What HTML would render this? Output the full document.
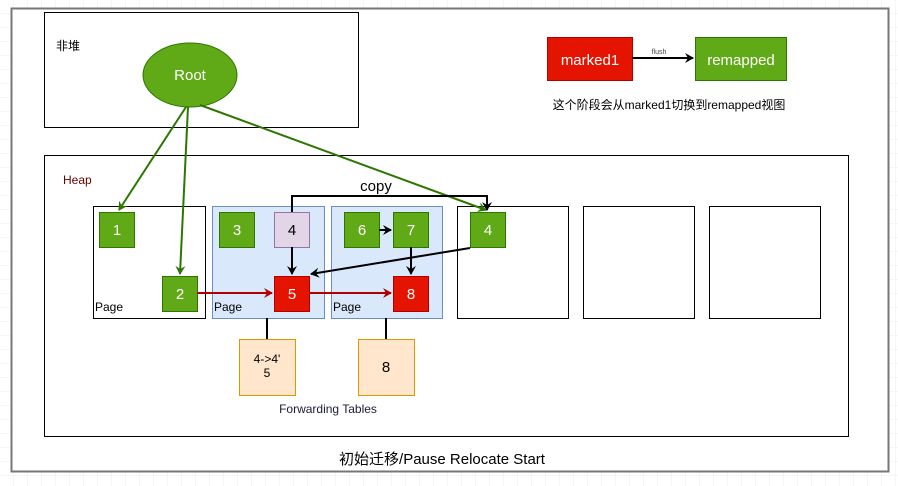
<!DOCTYPE html>
<html><head><meta charset="utf-8"><style>
html,body{margin:0;padding:0;background:#fff}
svg{display:block}
text{font-family:"Liberation Sans","Noto Sans CJK SC",sans-serif}
</style></head><body>
<svg width="898" height="486" viewBox="0 0 898 486" xmlns="http://www.w3.org/2000/svg">
<defs>
<pattern id="g" width="14" height="14" patternUnits="userSpaceOnUse"><path d="M14 0V14H0" fill="none" stroke="#eee" stroke-width="1"/></pattern>
<marker id="ag" markerWidth="10" markerHeight="10" refX="8" refY="5" orient="auto" markerUnits="userSpaceOnUse"><path d="M0,0 L9,5 L0,10 L3,5z" fill="#2d7600"/></marker>
<marker id="ab" markerWidth="10" markerHeight="10" refX="8" refY="5" orient="auto" markerUnits="userSpaceOnUse"><path d="M0,0 L9,5 L0,10 L3,5z" fill="#000"/></marker>
<marker id="ar" markerWidth="10" markerHeight="10" refX="8" refY="5" orient="auto" markerUnits="userSpaceOnUse"><path d="M0,0 L9,5 L0,10 L3,5z" fill="#b20000"/></marker>
</defs>
<rect width="898" height="486" fill="url(#g)"/>
<rect x="11.5" y="8.5" width="877" height="463" fill="#fff" stroke="#777" stroke-width="2"/>
<rect x="44.5" y="12.5" width="314" height="115" fill="#fff" stroke="#000"/>
<text x="56" y="50" font-size="12">非堆</text>
<rect x="44.5" y="155.5" width="804" height="281" fill="#fff" stroke="#000"/>
<text x="63" y="184" font-size="12" fill="#660000">Heap</text>
<rect x="93.5" y="206.5" width="112" height="112" fill="#fff" stroke="#000"/>
<rect x="212.5" y="206.5" width="112" height="112" fill="#dae8fc" stroke="#6c8ebf"/>
<rect x="331.5" y="206.5" width="111" height="112" fill="#dae8fc" stroke="#6c8ebf"/>
<rect x="457.5" y="206.5" width="111" height="112" fill="#fff" stroke="#000"/>
<rect x="583.5" y="206.5" width="111" height="112" fill="#fff" stroke="#000"/>
<rect x="709.5" y="206.5" width="111" height="112" fill="#fff" stroke="#000"/>
<g font-size="12"><text x="95" y="311">Page</text><text x="214" y="311">Page</text><text x="333" y="311">Page</text></g>
<line x1="267" y1="318" x2="267" y2="339" stroke="#000" stroke-width="2"/>
<line x1="386" y1="318" x2="386" y2="339" stroke="#000" stroke-width="2"/>
<rect x="239.5" y="339.5" width="56" height="56" fill="#ffe6cc" stroke="#d79b00"/>
<rect x="358.5" y="339.5" width="56" height="56" fill="#ffe6cc" stroke="#d79b00"/>
<text x="267" y="363" font-size="12" text-anchor="middle">4-&gt;4'</text>
<text x="267" y="377" font-size="12" text-anchor="middle">5</text>
<text x="386" y="372" font-size="15" text-anchor="middle">8</text>
<text x="328" y="413" font-size="12" text-anchor="middle" fill="#1a1a3a">Forwarding Tables</text>
<g stroke="#2d7600" stroke-width="1" font-size="15" text-anchor="middle">
<rect x="99.5" y="212.5" width="35" height="35" fill="#60a917"/>
<rect x="162.5" y="276.5" width="35" height="35" fill="#60a917"/>
<rect x="219.5" y="212.5" width="35" height="35" fill="#60a917"/>
<rect x="344.5" y="212.5" width="35" height="35" fill="#60a917"/>
<rect x="393.5" y="212.5" width="35" height="35" fill="#60a917"/>
<rect x="470.5" y="212.5" width="35" height="35" fill="#60a917"/>
</g>
<rect x="274.5" y="212.5" width="35" height="35" fill="#e1d5e7" stroke="#9673a6"/>
<rect x="274.5" y="276.5" width="35" height="35" fill="#e51400" stroke="#b20000"/>
<rect x="393.5" y="276.5" width="35" height="35" fill="#e51400" stroke="#b20000"/>
<g font-size="15" text-anchor="middle" fill="#fff">
<text x="117" y="235">1</text><text x="180" y="299">2</text><text x="237" y="235">3</text>
<text x="362" y="235">6</text><text x="411" y="235">7</text><text x="488" y="235">4</text>
<text x="292" y="299">5</text><text x="411" y="299">8</text>
</g>
<text x="292" y="235" font-size="15" text-anchor="middle">4</text>
<ellipse cx="190" cy="75" rx="47" ry="32" fill="#60a917" stroke="#2d7600"/>
<text x="190" y="80" font-size="15" fill="#fff" text-anchor="middle">Root</text>
<g stroke="#2d7600" stroke-width="2" fill="none">
<line x1="186" y1="107" x2="119" y2="210" marker-end="url(#ag)"/>
<line x1="188" y1="107" x2="180" y2="274" marker-end="url(#ag)"/>
<line x1="200" y1="105" x2="486" y2="210" marker-end="url(#ag)"/>
</g>
<g stroke="#000" stroke-width="2" fill="none">
<polyline points="292,212 292,196 487,196 487,210" marker-end="url(#ab)"/>
<line x1="292" y1="247" x2="292" y2="274" marker-end="url(#ab)"/>
<line x1="379" y1="230" x2="391" y2="230" marker-end="url(#ab)"/>
<line x1="411" y1="247" x2="411" y2="274" marker-end="url(#ab)"/>
<line x1="470" y1="248" x2="311" y2="274" marker-end="url(#ab)"/>
</g>
<text x="376" y="191" font-size="15" text-anchor="middle">copy</text>
<g stroke="#b20000" stroke-width="2">
<line x1="197" y1="293" x2="272" y2="293" marker-end="url(#ar)"/>
<line x1="309" y1="293" x2="391" y2="293" marker-end="url(#ar)"/>
</g>
<rect x="547.5" y="37.5" width="85" height="43" fill="#e51400" stroke="#b20000"/>
<rect x="695.5" y="37.5" width="91" height="43" fill="#60a917" stroke="#2d7600"/>
<text x="590" y="65" font-size="15" fill="#fff" text-anchor="middle">marked1</text>
<text x="741" y="65" font-size="15" fill="#fff" text-anchor="middle">remapped</text>
<line x1="632" y1="58" x2="693" y2="58" stroke="#000" stroke-width="2" marker-end="url(#ab)"/>
<text x="659" y="54" font-size="7" fill="#444" text-anchor="middle">flush</text>
<text x="669" y="109" font-size="12" text-anchor="middle">这个阶段会从marked1切换到remapped视图</text>
<text x="442" y="464" font-size="15" text-anchor="middle">初始迁移/Pause Relocate Start</text>
</svg>
</body></html>
